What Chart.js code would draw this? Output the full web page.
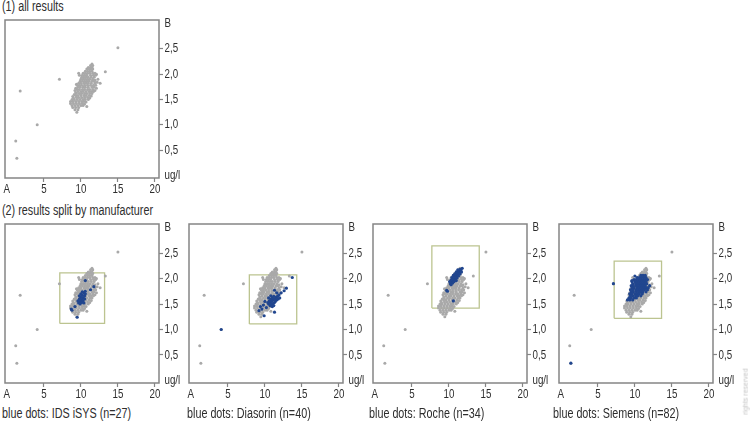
<!DOCTYPE html>
<html>
<head>
<meta charset="utf-8">
<script src="https://cdn.jsdelivr.net/npm/chart.js@4"></script>
<style>
  body { margin: 0; background: #fff; }
  #wrap { position: relative; width: 750px; height: 426px; overflow: hidden;
          font-family: "Liberation Sans", Arial, sans-serif; color: #2e2e2e; }
  .txt { position: absolute; font-size: 14px; line-height: 16px; white-space: nowrap;
         transform: scaleX(0.77); transform-origin: left center; }
  canvas { position: absolute; }
  #mark { position: absolute; left: 722px; top: 388px; font-size: 7px; color: #c4c4c4;
          transform: rotate(-90deg); transform-origin: center; white-space: nowrap; }
</style>
</head>
<body>
<div id="wrap">
  <div class="txt" style="left:2px;top:-2px">(1) all results</div>
  <div class="txt" style="left:2px;top:202px">(2) results split by manufacturer</div>
  <canvas id="c0" width="188" height="180" style="left:1px;top:16px"></canvas>
  <canvas id="c1" width="188" height="181" style="left:1px;top:220px"></canvas>
  <canvas id="c2" width="188" height="181" style="left:185px;top:220px"></canvas>
  <canvas id="c3" width="188" height="181" style="left:369px;top:220px"></canvas>
  <canvas id="c4" width="188" height="181" style="left:555px;top:220px"></canvas>
  <div class="txt" id="cap1" style="left:2px;top:405px"></div>
  <div class="txt" id="cap2" style="left:187px;top:405px"></div>
  <div class="txt" id="cap3" style="left:369px;top:405px"></div>
  <div class="txt" id="cap4" style="left:553px;top:405px"></div>
  <div id="mark">rights reserved</div>
</div>
<script>
// axis ticks
const xTicks = [0, 5, 10, 15, 20];
const xTickLabels = ['A', '5', '10', '15', '20'];
const yTicks = [0, 0.5, 1, 1.5, 2, 2.5, 3];
const yTickLabels = ['ug/l', '0,5', '1,0', '1,5', '2,0', '2,5', 'B'];

// all results (grey)
const outliers = [[15.0, 2.52], [13.3, 2.05], [7.1, 1.9], [1.8, 1.67], [4.1, 1.0], [1.2, 0.68], [1.35, 0.34]];
const cloud = [
  [11.5, 2.2], [11.3, 2.17], [11.6, 2.17], [11.0, 2.13], [11.3, 2.13], [11.5, 2.13],
  [10.8, 2.1], [11.1, 2.1], [11.4, 2.1], [11.6, 2.1], [10.6, 2.06], [10.9, 2.06], [11.2, 2.06], [11.5, 2.06],
  [10.3, 2.02], [10.6, 2.02], [10.9, 2.02], [11.2, 2.02], [11.6, 2.02], [11.9, 2.02], [12.1, 2.0], [9.7, 2.02],
  [9.8, 1.98], [10.2, 1.98], [10.5, 1.98], [10.8, 1.98], [11.3, 1.98], [11.7, 1.98], [12.0, 1.98],
  [10.1, 1.94], [10.4, 1.94], [10.7, 1.94], [11.0, 1.94], [11.4, 1.94], [11.8, 1.94],
  [10.0, 1.9], [10.3, 1.9], [10.6, 1.9], [10.9, 1.9], [11.2, 1.9], [11.6, 1.9], [12.3, 1.9], [11.9, 1.88],
  [9.9, 1.86], [10.2, 1.86], [10.5, 1.86], [10.8, 1.86], [11.1, 1.86], [11.5, 1.86], [11.8, 1.86], [12.2, 1.84],
  [9.7, 1.82], [10.0, 1.82], [10.4, 1.82], [10.7, 1.82], [11.0, 1.82], [11.4, 1.82], [11.9, 1.82], [12.6, 1.82], [9.4, 1.8],
  [9.8, 1.78], [10.1, 1.78], [10.5, 1.78], [10.9, 1.78], [11.3, 1.78], [11.7, 1.78], [12.0, 1.78], [9.5, 1.78],
  [9.6, 1.74], [9.9, 1.74], [10.3, 1.74], [10.6, 1.74], [11.0, 1.74], [11.5, 1.74], [12.1, 1.72], [11.8, 1.74], [9.3, 1.72],
  [9.5, 1.7], [9.8, 1.7], [10.2, 1.7], [10.5, 1.7], [10.9, 1.7], [11.2, 1.7], [11.6, 1.7], [11.9, 1.68], [9.2, 1.68],
  [9.6, 1.66], [10.0, 1.66], [10.3, 1.66], [10.7, 1.66], [11.1, 1.66], [11.4, 1.66], [11.7, 1.66], [9.3, 1.64],
  [9.4, 1.62], [9.8, 1.62], [10.1, 1.62], [10.5, 1.62], [10.8, 1.62], [11.2, 1.62], [11.5, 1.62], [9.1, 1.6],
  [9.3, 1.58], [9.6, 1.58], [10.0, 1.58], [10.4, 1.58], [10.7, 1.58], [11.1, 1.58], [11.4, 1.57], [8.9, 1.56],
  [9.4, 1.54], [9.7, 1.54], [10.1, 1.54], [10.5, 1.54], [10.9, 1.54], [11.2, 1.53], [9.0, 1.53],
  [9.1, 1.5], [9.5, 1.5], [9.9, 1.5], [10.3, 1.5], [10.6, 1.5], [11.0, 1.5], [8.8, 1.5],
  [8.9, 1.46], [9.3, 1.46], [9.7, 1.46], [10.1, 1.46], [10.4, 1.46], [10.7, 1.45], [8.6, 1.46],
  [8.6, 1.42], [9.0, 1.42], [9.4, 1.42], [9.8, 1.42], [10.2, 1.42], [10.5, 1.41],
  [8.8, 1.38], [9.2, 1.38], [9.6, 1.38], [10.0, 1.38], [10.3, 1.38],
  [8.9, 1.34], [9.3, 1.34], [9.7, 1.34], [10.8, 1.36],
  [9.2, 1.3], [9.6, 1.3], [9.45, 1.25]
];

// blue dots per manufacturer
const manufacturers = ['IDS iSYS', 'Diasorin', 'Roche', 'Siemens'];
const counts = [27, 40, 34, 82];
const blueIDS = [
  [9.7, 1.52], [9.9, 1.55], [10.1, 1.58], [10.3, 1.62], [10.5, 1.66], [9.8, 1.6], [10.0, 1.63],
  [10.2, 1.67], [10.4, 1.72], [10.6, 1.75], [9.9, 1.5], [10.1, 1.53], [10.3, 1.56], [10.5, 1.6],
  [10.0, 1.7], [10.2, 1.74], [9.8, 1.66], [10.6, 1.7], [10.4, 1.52], [9.6, 1.56], [8.7, 1.4],
  [8.8, 1.38], [9.5, 1.24], [10.6, 1.96], [11.75, 1.84], [11.3, 1.78], [9.2, 1.45]
];
const blueDiasorin = [
  [10.5, 1.5], [10.7, 1.52], [10.9, 1.55], [11.1, 1.58], [11.3, 1.6], [11.5, 1.63], [11.7, 1.65],
  [10.6, 1.56], [10.8, 1.59], [11.0, 1.62], [11.2, 1.65], [11.4, 1.55], [11.6, 1.58], [11.8, 1.6],
  [10.4, 1.53], [10.7, 1.47], [10.9, 1.49], [11.1, 1.51], [11.3, 1.53], [11.0, 1.45], [10.8, 1.66],
  [11.9, 1.68], [12.0, 1.62], [10.5, 1.62], [11.2, 1.47],
  [13.7, 2.02], [12.9, 1.81], [12.6, 1.76], [11.3, 1.77], [9.8, 1.48], [9.6, 1.4], [9.2, 1.37],
  [9.9, 1.27], [11.3, 1.34], [4.1, 1.0], [10.2, 1.43], [9.4, 1.45], [10.0, 1.55], [12.2, 1.72], [11.6, 1.72]
];
const blueRoche = [
  [10.2, 1.9], [10.4, 1.93], [10.6, 1.96], [10.8, 2.0], [11.0, 2.04], [11.2, 2.08], [11.4, 2.12],
  [11.6, 2.16], [11.8, 2.2], [10.3, 1.97], [10.5, 2.0], [10.7, 2.04], [10.9, 2.07], [11.1, 2.11],
  [11.3, 2.15], [11.5, 2.18], [10.4, 2.02], [10.6, 2.06], [10.8, 2.09], [11.0, 2.13], [10.5, 1.91],
  [10.7, 1.94], [10.9, 1.97], [11.1, 2.01], [11.3, 2.05], [11.5, 2.09], [11.7, 2.13], [10.3, 1.88],
  [10.1, 1.94], [11.2, 2.17], [9.8, 1.75], [9.7, 1.77], [10.6, 1.56], [11.0, 1.96]
];
const blueSiemens = [
  [10.8, 2.06], [11.1, 2.06], [11.4, 2.06],
  [10.3, 2.02], [10.6, 2.02], [10.9, 2.02], [11.2, 2.02], [11.5, 2.02],
  [9.9, 1.98], [10.2, 1.98], [10.5, 1.98], [10.8, 1.98], [11.1, 1.98], [11.4, 1.98], [11.7, 1.98],
  [9.6, 1.94], [10.0, 1.94], [10.3, 1.94], [10.6, 1.94], [10.9, 1.94], [11.2, 1.94], [11.5, 1.94],
  [9.7, 1.9], [10.1, 1.9], [10.4, 1.9], [10.7, 1.9], [11.0, 1.9], [11.3, 1.9], [11.6, 1.9],
  [9.5, 1.86], [9.8, 1.86], [10.2, 1.86], [10.5, 1.86], [10.8, 1.86], [11.1, 1.86], [11.4, 1.86], [12.0, 1.86],
  [9.6, 1.82], [9.9, 1.82], [10.3, 1.82], [10.6, 1.82], [10.9, 1.82], [11.2, 1.82], [11.5, 1.82], [11.8, 1.82],
  [9.4, 1.78], [9.7, 1.78], [10.1, 1.78], [10.4, 1.78], [10.7, 1.78], [11.0, 1.78], [11.3, 1.78], [11.7, 1.78],
  [9.5, 1.74], [9.8, 1.74], [10.2, 1.74], [10.5, 1.74], [10.8, 1.74], [11.1, 1.74], [11.5, 1.74],
  [9.3, 1.7], [9.6, 1.7], [10.0, 1.7], [10.3, 1.7], [10.6, 1.7], [11.0, 1.7],
  [9.4, 1.66], [9.7, 1.66], [10.1, 1.66], [10.4, 1.66], [10.8, 1.66],
  [9.2, 1.62], [9.5, 1.62], [9.9, 1.62], [10.2, 1.62],
  [9.0, 1.58], [9.3, 1.58], [9.7, 1.58],
  [7.1, 1.9], [1.35, 0.34], [9.6, 1.96], [10.0, 2.05]
];
const blueSets = [blueIDS, blueDiasorin, blueRoche, blueSiemens];

// green boxes [from, to]
const boxX = [[7.15, 13.2], [7.9, 14.3], [7.7, 14.1], [7.2, 13.6]];
const boxY = [[1.12, 2.11], [1.11, 2.07], [1.42, 2.64], [1.22, 2.34]];

const frameColor = '#858585';
const textColor = '#2e2e2e';
const toPts = arr => arr.map(p => ({ x: p[0], y: p[1] }));

// box round the plot area
const framePlugin = {
  id: 'frame',
  beforeDatasetsDraw(chart) {
    const a = chart.chartArea, c = chart.ctx;
    c.save();
    c.strokeStyle = frameColor;
    c.lineWidth = 1.5;
    c.strokeRect(a.left, a.top, a.right - a.left, a.bottom - a.top);
    c.restore();
  }
};

// condensed tick labels (narrow font is not installed)
const labelPlugin = {
  id: 'narrowLabels',
  afterDraw(chart) {
    const c = chart.ctx, xs = chart.scales.x, ys = chart.scales.y, a = chart.chartArea;
    c.save();
    c.fillStyle = textColor;
    c.font = '13px "Liberation Sans", Arial, sans-serif';
    c.textBaseline = 'middle';
    c.textAlign = 'center';
    xTicks.forEach((v, i) => {
      c.save();
      c.translate(xs.getPixelForValue(v), a.bottom + 11);
      c.scale(0.75, 1);
      c.fillText(xTickLabels[i], 0, 0);
      c.restore();
    });
    c.textAlign = 'left';
    yTicks.forEach((v, i) => {
      c.save();
      c.translate(a.right + 5.5, ys.getPixelForValue(v));
      c.scale(0.75, 1);
      c.fillText(yTickLabels[i], 0, 0);
      c.restore();
    });
    c.restore();
  }
};

function makeChart(id, blue, bx, by) {
  const datasets = [];
  datasets.push({
    data: toPts(cloud.concat(outliers)),
    backgroundColor: '#a9a9a9', pointRadius: 1.5, borderWidth: 0, order: 2
  });
  if (blue) {
    datasets.push({
      data: toPts(blue),
      backgroundColor: '#21468f', pointRadius: 1.6, borderWidth: 0, order: 1
    });
    datasets.push({
      type: 'line',
      data: [{ x: bx[0], y: by[0] }, { x: bx[1], y: by[0] }, { x: bx[1], y: by[1] },
             { x: bx[0], y: by[1] }, { x: bx[0], y: by[0] }],
      borderColor: '#bcc490', borderWidth: 1.3, pointRadius: 0, fill: false, order: 3
    });
  }
  const noPad = s => { s.paddingLeft = 0; s.paddingRight = 0; s.paddingTop = 0; s.paddingBottom = 0; };
  new Chart(document.getElementById(id), {
    type: 'scatter',
    data: { datasets },
    plugins: [framePlugin, labelPlugin],
    options: {
      responsive: false,
      animation: false,
      layout: { padding: { left: 2, top: 4, right: 0, bottom: 0 } },
      plugins: { legend: { display: false }, tooltip: { enabled: false } },
      scales: {
        x: {
          type: 'linear', min: -0.25, max: 20.55,
          afterBuildTicks: s => { s.ticks = xTicks.map(v => ({ value: v })); },
          afterFit: s => { s.height = 18; noPad(s); },
          border: { display: false },
          grid: {
            drawOnChartArea: false, tickLength: 4, tickWidth: 1.2,
            tickColor: ctx => (ctx.tick && ctx.tick.value === 0 ? 'rgba(0,0,0,0)' : frameColor)
          },
          ticks: { autoSkip: false, maxRotation: 0, padding: 1, color: 'rgba(0,0,0,0)',
                   callback: (v, i) => xTickLabels[i] }
        },
        y: {
          type: 'linear', position: 'right', min: -0.05, max: 3.07,
          afterBuildTicks: s => { s.ticks = yTicks.map(v => ({ value: v })); },
          afterFit: s => { s.width = 30; noPad(s); },
          border: { display: false },
          grid: {
            drawOnChartArea: false, tickLength: 4, tickWidth: 1.2,
            tickColor: ctx => (ctx.tick && (ctx.tick.value === 0 || ctx.tick.value === 3) ? 'rgba(0,0,0,0)' : frameColor)
          },
          ticks: { autoSkip: false, padding: 1, color: 'rgba(0,0,0,0)',
                   callback: (v, i) => yTickLabels[i] }
        }
      }
    }
  });
}

makeChart('c0', null);
for (let i = 0; i < 4; i++) {
  makeChart('c' + (i + 1), blueSets[i], boxX[i], boxY[i]);
  document.getElementById('cap' + (i + 1)).textContent =
    'blue dots: ' + manufacturers[i] + ' (n=' + counts[i] + ')';
}
</script>
</body>
</html>
